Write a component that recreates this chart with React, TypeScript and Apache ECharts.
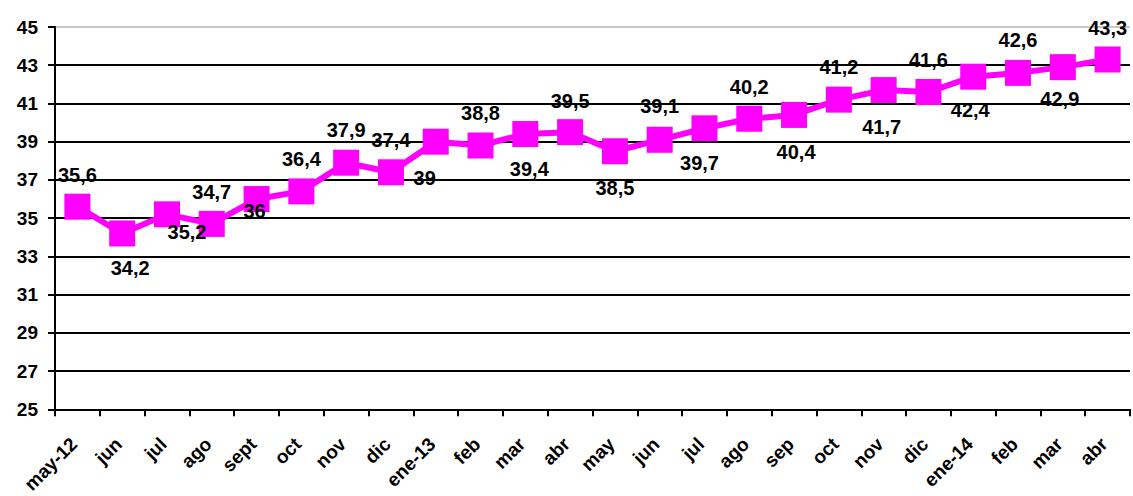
import React, { useEffect, useRef } from "react";
import * as echarts from "echarts";

const categories = [
  "may-12", "jun", "jul", "ago", "sept", "oct", "nov", "dic", "ene-13", "feb", "mar", "abr",
  "may", "jun", "jul", "ago", "sep", "oct", "nov", "dic", "ene-14", "feb", "mar", "abr",
];
const values = [
  35.6, 34.2, 35.2, 34.7, 36, 36.4, 37.9, 37.4, 39, 38.8, 39.4, 39.5,
  38.5, 39.1, 39.7, 40.2, 40.4, 41.2, 41.7, 41.6, 42.4, 42.6, 42.9, 43.3,
];
// label placement relative to the marker centre (styling only)
const labelOffsets: [number, number][] = [
  [0, -32], [8, 35], [20, 18], [0, -32], [-2, 12], [0, -32], [0, -33], [0, -32],
  [-11, 36], [0, -33], [4, 35], [0, -31], [0, 37], [0, -34], [-5, 35], [0, -32],
  [2, 37], [0, -33], [-2, 37], [0, -32], [-3, 33], [0, -33], [-3, 32], [0, -31],
];

const FONT = 'Arial, "Liberation Sans", sans-serif';

export default function App() {
  const ref = useRef<HTMLDivElement>(null);
  useEffect(() => {
    if (!ref.current) return;
    const chart = echarts.init(ref.current, null, { renderer: "svg" });
    const gridColors = ["#000", "#000", "#000", "#000", "#000", "#000", "#000", "#000", "#000", "#000", "#c8c8c8"];
    chart.setOption({
      animation: false,
      backgroundColor: "#fff",
      grid: { left: 55, right: 3, top: 27, bottom: 85 },
      xAxis: {
        type: "category",
        data: categories,
        boundaryGap: true,
        axisLine: { lineStyle: { color: "#000", width: 2 } },
        axisTick: { show: true, length: 7, lineStyle: { color: "#000", width: 2 } },
        axisLabel: {
          rotate: 45,
          interval: 0,
          margin: 28,
          padding: [0, 5, 0, 0],
          color: "#000",
          fontWeight: "bold",
          fontSize: 19,
          fontFamily: FONT,
        },
      },
      yAxis: {
        type: "value",
        min: 25,
        max: 45,
        interval: 2,
        axisLine: { show: true, lineStyle: { color: "#000", width: 2 } },
        axisTick: { show: true, length: 7, lineStyle: { color: "#000", width: 2 } },
        axisLabel: {
          margin: 17,
          color: "#000",
          fontWeight: "bold",
          fontSize: 19,
          fontFamily: FONT,
        },
        splitLine: { show: true, lineStyle: { color: gridColors, width: 2 } },
      },
      series: [
        {
          type: "line",
          data: values.map((v, i) => ({
            value: v,
            label: { offset: labelOffsets[i] },
          })),
          symbol: "rect",
          symbolSize: 26,
          itemStyle: { color: "#ff00ff" },
          lineStyle: { color: "#ff00ff", width: 6 },
          label: {
            show: true,
            position: "inside",
            color: "#000",
            fontWeight: "bold",
            fontSize: 20,
            fontFamily: FONT,
            formatter: (p: any) => String(p.value).replace(".", ","),
          },
          z: 3,
        },
      ],
    });
    return () => chart.dispose();
  }, []);
  return (
    <div
      ref={ref}
      style={{ position: "fixed", left: 0, top: 0, width: 1133, height: 496, background: "#fff" }}
    />
  );
}
